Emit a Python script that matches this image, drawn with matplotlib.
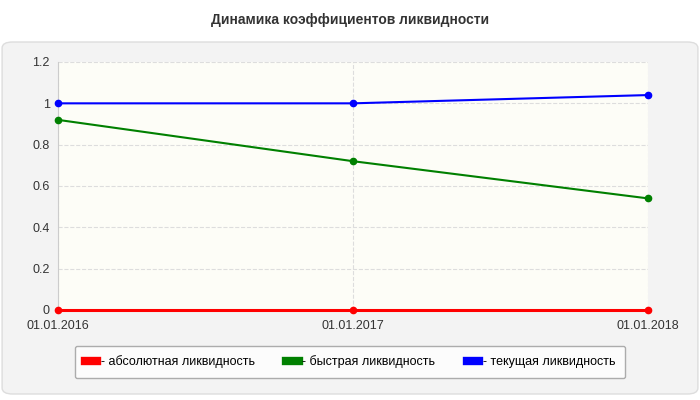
import matplotlib.pyplot as plt
from matplotlib.patches import FancyBboxPatch
from matplotlib.lines import Line2D

plt.rcParams["font.family"] = "Liberation Sans"

dates = ["01.01.2016", "01.01.2017", "01.01.2018"]
absolute = [0.0, 0.0, 0.0]
quick = [0.92, 0.72, 0.54]
current = [1.0, 1.0, 1.04]
labels = ["- абсолютная ликвидность", "- быстрая ликвидность", "- текущая ликвидность"]
colors = ["#ff0000", "#008000", "#0000ff"]

fig = plt.figure(figsize=(7, 4), dpi=100)
fig.patch.set_facecolor("white")

# gray rounded panel behind the axes
panel = FancyBboxPatch((0.003, 0.015), 0.994, 0.88, boxstyle="round,pad=0,rounding_size=0.015",
                       transform=fig.transFigure, facecolor="#f3f3f3", edgecolor="#dddddd",
                       lw=1, zorder=-10)
fig.patches.append(panel)
fig.text(0.5, 0.95, "Динамика коэффициентов ликвидности", ha="center", va="center",
         fontsize=10, fontweight="bold", color="#333333")

ax = fig.add_axes([58 / 700, 1 - 310 / 400, 590 / 700, 248 / 400])
ax.set_facecolor("#fdfdf7")
x = range(len(dates))
for ys, c in zip([absolute, quick, current], colors):
    ax.plot(x, ys, color=c, lw=1.5 if c != "#ff0000" else 2.2, marker="o", ms=4.5,
            zorder=3, clip_on=False)

ax.set_xlim(0, 2)
ax.set_ylim(0, 1.2)
ax.set_yticks([0, 0.2, 0.4, 0.6, 0.8, 1, 1.2])
ax.set_yticklabels(["0", "0.2", "0.4", "0.6", "0.8", "1", "1.2"])
ax.set_xticks(list(x))
ax.set_xticklabels(dates)
ax.tick_params(labelsize=9, colors="#333333", length=0)
ax.tick_params(axis="x", pad=7)
ax.tick_params(axis="y", pad=6)
ax.grid(True, ls="--", color="#dddddd", lw=0.8)
for s in ["top", "right"]:
    ax.spines[s].set_visible(False)
ax.spines["left"].set_color("#cccccc")
ax.spines["bottom"].set_color("#cccccc")

handles = [Line2D([0], [0], color=c, lw=6) for c in colors]
leg = fig.legend(handles, labels, loc="center", bbox_to_anchor=(0.5, 1 - 362 / 400), ncol=3,
                 fontsize=9, frameon=True, handlelength=1.0, columnspacing=2.5,
                 handletextpad=0.3, borderpad=0.8, fancybox=True)
leg.get_frame().set_edgecolor("#999999")
leg.get_frame().set_facecolor("white")

fig.savefig("out.png", dpi=100)
